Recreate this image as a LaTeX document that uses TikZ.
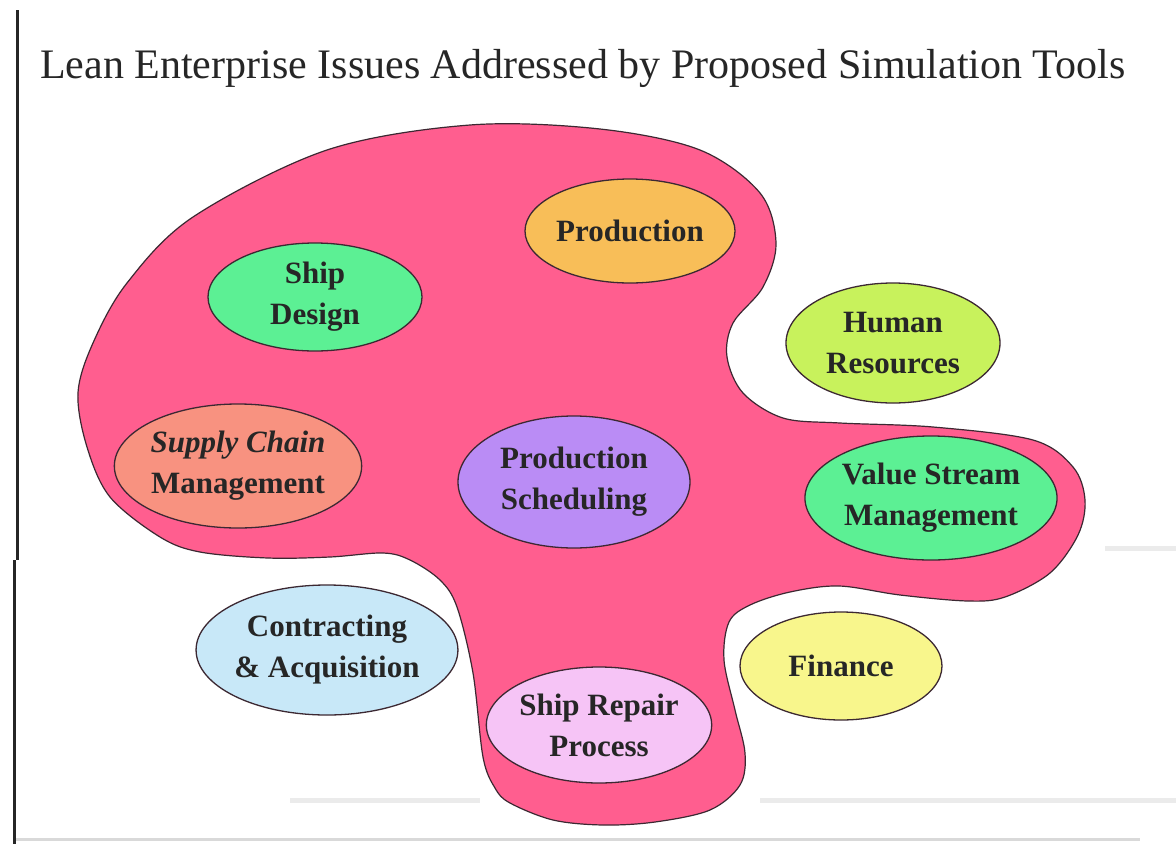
\documentclass[tikz,border=0pt]{standalone}
\usepackage{fontspec}
\setmainfont{Liberation Serif}
\usetikzlibrary{shapes.geometric}
\definecolor{blobpink}{RGB}{255,94,143}
\definecolor{cOrange}{RGB}{248,190,88}
\definecolor{cGreen}{RGB}{92,240,148}
\definecolor{cLime}{RGB}{200,242,92}
\definecolor{cSalmon}{RGB}{248,146,128}
\definecolor{cPurple}{RGB}{186,140,245}
\definecolor{cBlue}{RGB}{200,232,248}
\definecolor{cYellow}{RGB}{248,246,140}
\definecolor{cLilac}{RGB}{246,196,246}
\definecolor{edge}{RGB}{60,40,50}
\tikzset{
  issue/.style={ellipse, draw=edge, line width=1.3pt, inner sep=0pt, align=center,
    font=\fontsize{31}{41}\selectfont\bfseries, text=black!85},
  blob/.style={fill=blobpink, draw=edge, line width=1.2pt},
  frameline/.style={black!85, line width=3pt},
  streak/.style={black!8, line width=5pt}
}
\begin{document}
\begin{tikzpicture}[x=1pt,y=-1pt]
\useasboundingbox (0,0) rectangle (1176,844);
\fill[white] (0,0) rectangle (1176,844);
% faint scan streaks
\draw[streak] (1105,548) -- (1176,548);
\draw[streak] (290,800) -- (480,800);
\draw[streak] (760,800) -- (1176,800);
\draw[black!15, line width=3pt] (14,839) -- (1140,839);
% frame line at left
\draw[frameline] (17,10) -- (17,560);
\draw[frameline] (14,560) -- (14,844);
% title
\node[anchor=base west, inner sep=0pt, font=\fontsize{42}{50}\selectfont, text=black!85] (title) at (40,78) {Lean Enterprise Issues Addressed by Proposed Simulation Tools};
% pink blob
\draw[blob] plot[smooth cycle, tension=0.55] coordinates {
 (470,125) (600,129) (700,150) (760,193) (776,243) (763,287) (733,323) (727,357)
 (743,393) (783,418) (840,423) (933,427) (1033,440) (1073,467) (1085,500) (1078,535)
 (1050,573) (1005,597) (968,601) (900,595) (839,586) (790,592) (750,605) (729,622)
 (724,660) (735,710) (745,753) (740,785) (710,810) (655,822) (603,825) (553,820)
 (510,803) (495,788) (483,757) (473,673) (457,607) (440,580) (410,560) (383,553)
 (330,557) (268,558) (200,552) (160,537) (110,497) (87,447) (78,393) (93,343)
 (127,283) (193,217) (327,150)};
% issues
\node[issue, fill=cOrange, minimum width=210pt, minimum height=104pt] (prod) at (630,231) {Production};
\node[issue, fill=cGreen, minimum width=214pt, minimum height=108pt] (ship) at (315,297) {Ship\\Design};
\node[issue, fill=cLime, minimum width=214pt, minimum height=120pt] (hr) at (893,343) {Human\\Resources};
\node[issue, fill=cSalmon, minimum width=232pt, minimum height=124pt] (scm) at (238,466) {\itshape Supply Chain\\Management};
\node[issue, fill=cPurple, minimum width=232pt, minimum height=132pt] (sched) at (574,482) {Production\\Scheduling};
\node[issue, fill=cGreen, minimum width=234pt, minimum height=124pt] (vsm) at (931,498) {Value Stream\\Management};
\node[issue, fill=cBlue, minimum width=242pt, minimum height=130pt] (contr) at (327,650) {Contracting\\\& Acquisition};
\node[issue, fill=cYellow, minimum width=202pt, minimum height=108pt] (fin) at (841,666) {Finance};
\node[issue, fill=cLilac, minimum width=222pt, minimum height=116pt] (repair) at (599,725) {Ship Repair\\Process};
\end{tikzpicture}
\end{document}
